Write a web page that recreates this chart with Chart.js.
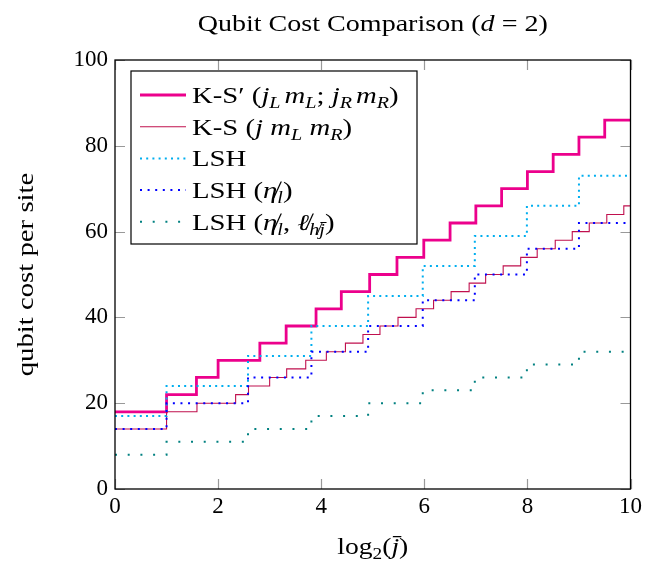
<!DOCTYPE html>
<html>
<head>
<meta charset="utf-8">
<script src="https://cdn.jsdelivr.net/npm/chart.js@4/dist/chart.umd.min.js"></script>
<style>
  body { margin: 0; background: #fff; }
  canvas { display: block; }
</style>
</head>
<body>
<canvas id="myChart" width="646" height="564"></canvas>
<script>
// step data: x = log2(jbar) where the value changes, y = qubit cost from there on
const ksPrimeX = [0, 1, 1.58, 2, 2.81, 3.32, 3.9, 4.39, 4.94, 5.47, 5.99, 6.5, 7, 7.5, 8, 8.5, 9, 9.5, 10];
const ksPrimeY = [18, 22, 26, 30, 34, 38, 42, 46, 50, 54, 58, 62, 66, 70, 74, 78, 82, 86, 86];

const ksX = [0, 1, 1.59, 2.34, 2.59, 3.0, 3.33, 3.7, 4.1, 4.47, 4.81, 5.14, 5.49, 5.84, 6.18, 6.52, 6.87, 7.19, 7.53, 7.87, 8.19, 8.54, 8.87, 9.2, 9.54, 9.87, 10];
const ksY = [14, 18, 20, 22, 24, 26, 28, 30, 32, 34, 36, 38, 40, 42, 44, 46, 48, 50, 52, 54, 56, 58, 60, 62, 64, 66, 66];

// the three LSH curves jump at the same places
const lshX = [0, 1, 2.58, 3.81, 4.91, 5.97, 6.98, 7.99, 9, 10];
const lshY = [17, 24, 31, 38, 45, 52, 59, 66, 73, 73];
const lshEtaY = [14, 20, 26, 32, 38, 44, 50, 56, 62, 62];
const lshEtaEllY = [8, 11, 14, 17, 20, 23, 26, 29, 32, 32];

const xTicks = [0, 2, 4, 6, 8, 10];
const yTicks = [0, 20, 40, 60, 80, 100];

const FONT = "'Liberation Serif', 'DejaVu Serif', serif";
const SIZE = 23;
const STRETCH = 1.2; // the TeX font is wider than Liberation Serif

function pts(xs, ys) {
    return xs.map((x, i) => ({ x: x, y: ys[i] }));
}

// rich text: list of [text, style], style '' roman, 'i' italic, 's' sub, 'is' italic sub
function setSegFont(ctx, style, size) {
    let sub = style.indexOf('s') >= 0;
    let it = style.indexOf('i') >= 0;
    ctx.font = (it ? 'italic ' : '') + (sub ? size * 0.7 : size) + 'px ' + FONT;
}
function richWidth(ctx, segs, size) {
    let w = 0;
    for (let s of segs) {
        setSegFont(ctx, s[1], size);
        w += ctx.measureText(s[0]).width;
    }
    return w;
}
function drawRich(ctx, segs, x, y, size, align, sx) {
    sx = sx || STRETCH;
    let w = richWidth(ctx, segs, size) * sx;
    let left = align === 'center' ? x - w / 2 : x;
    ctx.save();
    ctx.translate(left, y);
    ctx.scale(sx, 1);
    ctx.textBaseline = 'alphabetic';
    ctx.textAlign = 'left';
    ctx.fillStyle = '#000';
    let cx = 0;
    for (let s of segs) {
        setSegFont(ctx, s[1], size);
        let dy = s[1].indexOf('s') >= 0 ? size * 0.22 : 0;
        ctx.fillText(s[0], cx, dy);
        cx += ctx.measureText(s[0]).width;
    }
    ctx.restore();
}

const series = [
    { label: [['K-S\u2032 (', ''], ['j', 'i'], ['L\u2009', 'is'], ['m', 'i'], ['L', 'is'], ['; ', ''], ['j', 'i'], ['R\u2009', 'is'], ['m', 'i'], ['R', 'is'], [')', '']],
      data: pts(ksPrimeX, ksPrimeY), color: '#EC008C', width: 2.8, dash: [] },
    { label: [['K-S (', ''], ['j', 'i'], [' ', ''], ['m', 'i'], ['L', 'is'], [' ', ''], ['m', 'i'], ['R', 'is'], [')', '']],
      data: pts(ksX, ksY), color: '#C0104E', width: 1.1, dash: [] },
    { label: [['LSH', '']],
      data: pts(lshX, lshY), color: '#00AEEF', width: 2, dash: [2, 4.2] },
    { label: [['LSH (', ''], ['\u03B7\u0338', 'i'], ['l', 'is'], [')', '']],
      data: pts(lshX, lshEtaY), color: '#0000FF', width: 2, dash: [2, 5.6] },
    { label: [['LSH (', ''], ['\u03B7\u0338', 'i'], ['l', 'is'], [', ', ''], ['\u2113\u0338', 'i'], ['h\u0338j\u0304', 'is'], [')', '']],
      data: pts(lshX, lshEtaEllY), color: '#008080', width: 2, dash: [2, 10.7] }
];

const decor = {
    id: 'decor',
    afterDatasetsDraw(chart) {
        const ctx = chart.ctx;
        const a = chart.chartArea;
        const xs = chart.scales.x, ys = chart.scales.y;
        ctx.save();
        // inward tick marks on all four sides
        ctx.strokeStyle = 'rgba(0,0,0,0.4)';
        ctx.lineWidth = 1.2;
        const len = 10;
        ctx.beginPath();
        for (let v of xTicks) {
            let px = Math.round(xs.getPixelForValue(v)) + 0.5;
            ctx.moveTo(px, a.bottom); ctx.lineTo(px, a.bottom - len);
            ctx.moveTo(px, a.top); ctx.lineTo(px, a.top + len);
        }
        for (let v of yTicks) {
            let py = Math.round(ys.getPixelForValue(v)) + 0.5;
            ctx.moveTo(a.left, py); ctx.lineTo(a.left + len, py);
            ctx.moveTo(a.right, py); ctx.lineTo(a.right - len, py);
        }
        ctx.stroke();
        // frame
        ctx.strokeStyle = '#000';
        ctx.lineWidth = 1.3;
        ctx.strokeRect(a.left, a.top, a.right - a.left, a.bottom - a.top);
        ctx.restore();
    },
    afterDraw(chart) {
        const ctx = chart.ctx;
        const a = chart.chartArea;
        const mid = (a.left + a.right) / 2;
        // title
        drawRich(ctx, [['Qubit Cost Comparison (', ''], ['d', 'i'], [' = 2)', '']], mid, 31, SIZE, 'center', 1.22);
        // x label
        drawRich(ctx, [['log', ''], ['2', 's'], ['(', ''], ['j\u0304', 'i'], [')', '']], mid, 554, SIZE, 'center');
        // y label
        ctx.save();
        ctx.translate(27, (a.top + a.bottom) / 2);
        ctx.rotate(-Math.PI / 2);
        ctx.scale(1.25, 1);
        ctx.font = SIZE + 'px ' + FONT;
        ctx.fillStyle = '#000';
        ctx.textAlign = 'center';
        ctx.textBaseline = 'middle';
        ctx.fillText('qubit cost per site', 0, 0);
        ctx.restore();

        // legend box
        ctx.save();
        const bx = a.left + 16, by = a.top + 11, bw = 286, bh = 173;
        ctx.fillStyle = '#fff';
        ctx.fillRect(bx, by, bw, bh);
        ctx.strokeStyle = '#000';
        ctx.lineWidth = 1.2;
        ctx.strokeRect(bx, by, bw, bh);
        for (let i = 0; i < series.length; i++) {
            const s = series[i];
            const cy = by + 24 + i * 31.7;
            ctx.beginPath();
            ctx.strokeStyle = s.color;
            ctx.lineWidth = s.width;
            ctx.setLineDash(s.dash);
            ctx.moveTo(bx + 9, cy);
            ctx.lineTo(bx + 55, cy);
            ctx.stroke();
            ctx.setLineDash([]);
            drawRich(ctx, s.label, bx + 61, cy + 8, SIZE, 'left', 1.25);
        }
        ctx.restore();
    }
};

const ctx = document.getElementById('myChart').getContext('2d');
const myChart = new Chart(ctx, {
    type: 'line',
    data: {
        datasets: series.map((s, i) => ({
            label: s.label.map(p => p[0]).join(''),
            data: s.data,
            borderColor: s.color,
            borderWidth: s.width,
            borderDash: s.dash,
            borderCapStyle: 'butt',
            stepped: true,
            pointRadius: 0,
            fill: false,
            order: series.length - i
        }))
    },
    options: {
        responsive: false,
        animation: false,
        layout: { padding: { left: 0, right: 13, top: 60, bottom: 0 } },
        plugins: {
            legend: { display: false },
            title: { display: false },
            tooltip: { enabled: false }
        },
        scales: {
            x: {
                type: 'linear',
                min: 0,
                max: 10,
                afterBuildTicks: (scale) => { scale.ticks = xTicks.map(v => ({ value: v })); },
                afterFit: (scale) => { scale.height = 75; },
                ticks: { color: '#000', padding: 4, maxRotation: 0, font: { family: FONT, size: SIZE } },
                grid: { display: false, drawTicks: false },
                border: { display: false }
            },
            y: {
                min: 0,
                max: 100,
                afterBuildTicks: (scale) => { scale.ticks = yTicks.map(v => ({ value: v })); },
                afterFit: (scale) => { scale.width = 115; },
                ticks: { color: '#000', padding: 7, font: { family: FONT, size: SIZE } },
                grid: { display: false, drawTicks: false },
                border: { display: false }
            }
        }
    },
    plugins: [decor]
});
</script>
</body>
</html>
